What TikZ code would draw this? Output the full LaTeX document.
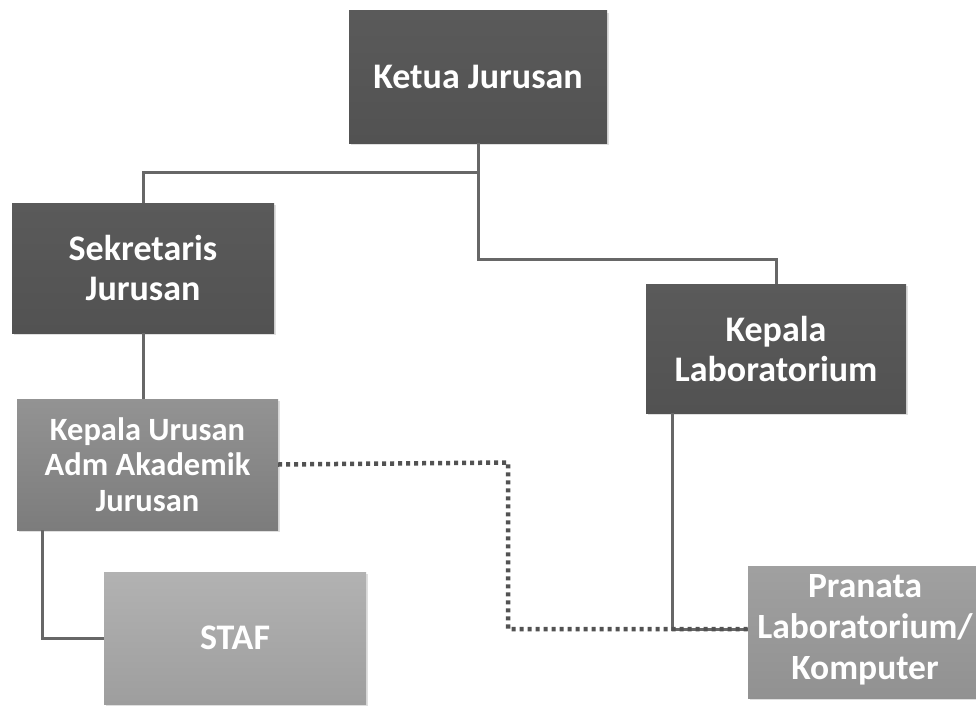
\documentclass[tikz,border=0pt]{standalone}
\usepackage{fontspec}
\setmainfont{Carlito}
\usetikzlibrary{shadows}
\definecolor{darkbox}{HTML}{5A5A5A}
\definecolor{darkboxb}{HTML}{525252}
\definecolor{midbox}{HTML}{939393}
\definecolor{midboxb}{HTML}{7C7C7C}
\definecolor{lightbox}{HTML}{B2B2B2}
\definecolor{lightboxb}{HTML}{9E9E9E}
\definecolor{linkgray}{HTML}{676767}
\begin{document}
\begin{tikzpicture}[x=1pt,y=-1pt,
  box/.style={rectangle, inner sep=0pt, align=center, text=white,
    font=\fontsize{36}{40}\selectfont\bfseries,
    drop shadow={opacity=0.25, shadow xshift=2pt, shadow yshift=-2pt}},
  darkunit/.style={box, top color=darkbox, bottom color=darkboxb},
  midunit/.style={box, top color=midbox, bottom color=midboxb,
    font=\fontsize{32.5}{35.5}\selectfont\bfseries},
  lightunit/.style={box, top color=lightbox, bottom color=lightboxb},
  link/.style={draw=linkgray, line width=3pt},
  dotlink/.style={draw=linkgray!80!black, line width=4.5pt, dash pattern=on 4pt off 4pt}
]
\useasboundingbox (0,0) rectangle (976,709);
\fill[white] (0,0) rectangle (976,709);
\clip (0,0) rectangle (976,709);

% units
\node[darkunit, minimum width=258pt, minimum height=132pt] (ketua) at (478,77) {Ketua Jurusan};
\node[darkunit, minimum width=262pt, minimum height=130pt] (sek) at (143,268) {Sekretaris\\Jurusan};
\node[darkunit, minimum width=260pt, minimum height=129pt] (klab) at (776,348.5) {Kepala\\Laboratorium};
\node[midunit, minimum width=261pt, minimum height=131pt] (kur) at (147.5,464.5) {Kepala Urusan\\Adm Akademik\\Jurusan};
\node[lightunit, minimum width=262pt, minimum height=132pt] (staf) at (235,638) {STAF};
\node[lightunit, top color=lightbox!90!black, bottom color=lightboxb!92!black,
      minimum width=262pt, minimum height=132pt] (pran) at (879,632) {};
\node[align=center, text=white, font=\fontsize{35.5}{41}\selectfont\bfseries]
      (prantext) at (865,630) {Pranata\\Laboratorium/\\Komputer};

% junctions under the head of department
\coordinate (j1) at (478,172);
\coordinate (j2) at (478,259);

% solid reporting lines
\draw[link] (ketua.south) -- (j2) -| (klab.north);
\draw[link] (j1) -| (sek.south |- sek.north);
\draw[link] (sek.south) -- (sek.south |- kur.north);
\draw[link] ([xshift=26pt]kur.south west) |- (staf.west);
\draw[link] ([xshift=27pt]klab.south west) |- ([yshift=3pt]pran.west);

% dotted coordination line
\draw[dotlink] (kur.east) -- ++(230,-2) |- ([yshift=3pt]pran.west);
\end{tikzpicture}
\end{document}
